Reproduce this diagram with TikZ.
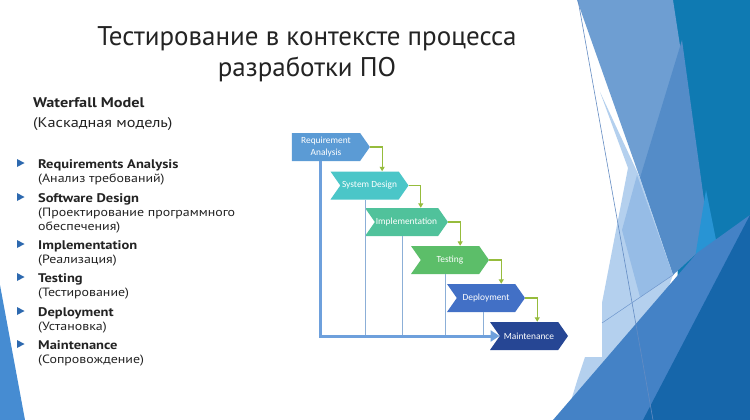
\documentclass[tikz,border=0pt]{standalone}
\usepackage{fontspec}
\setmainfont{PT Sans}
\newfontfamily\listfont{PT Sans}[FakeStretch=1.16]
\newfontfamily\chevfont{Carlito}
\usetikzlibrary{positioning,arrows.meta,shapes.symbols}

\definecolor{raC}{RGB}{91,155,213}
\definecolor{sdC}{RGB}{75,198,200}
\definecolor{imC}{RGB}{80,194,155}
\definecolor{tsC}{RGB}{92,190,105}
\definecolor{dpC}{RGB}{66,112,198}
\definecolor{mtC}{RGB}{38,70,148}
\definecolor{flowC}{RGB}{150,188,60}
\definecolor{backC}{RGB}{110,160,220}
\definecolor{dropC}{RGB}{140,175,215}
\definecolor{textC}{RGB}{35,35,35}
\definecolor{bulC}{RGB}{45,105,175}
\newcommand\itm[2]{{\fontsize{12.5}{14}\selectfont\bfseries #1}\\#2}

\begin{document}
\begin{tikzpicture}[x=1pt, y=-1pt,
  stage/.style={signal, signal to=east, signal from=west, signal pointer angle=110,
    minimum width=78pt, minimum height=28pt, inner sep=1pt, text=white,
    font=\chevfont\fontsize{9.4}{10}\selectfont, align=center},
  flow/.style={draw=flowC, line width=1.1pt, -{Triangle[length=4.5pt,width=5pt]}},
  back/.style={draw=backC, line width=3pt, -{Triangle[length=9pt,width=11pt]}},
  drop/.style={draw=dropC, line width=0.8pt},
  item/.style={anchor=north west, align=left, inner sep=0pt, text=textC,
    font=\listfont\fontsize{12}{14}\selectfont}]
  \useasboundingbox (0,0) rectangle (750,420);
  \fill[white] (0,0) rectangle (750,420);
  % background facets
  \fill[fill={rgb,255:red,15;green,122;blue,178}] (673,0) -- (750,0) -- (750,420) -- (680,420) -- cycle;
  \fill[fill={rgb,255:red,110;green,158;blue,210}] (577,0) -- (673,0) -- (706,215) -- (673,275) -- (640,178) -- cycle;
  \fill[fill={rgb,255:red,84;green,140;blue,200}] (682,40) -- (706,215) -- (697,253) -- (673,275) -- (640,178) -- cycle;
  \fill[fill={rgb,255:red,40;green,148;blue,212}] (706,190) -- (719,255) -- (687,340) -- (695,258) -- cycle;
  \fill[fill={rgb,255:red,180;green,208;blue,238}] (600,92) -- (640,178) -- (673,275) -- (620,420) -- (565,420)
    -- (578,378) -- (585,357) -- (602,357) -- (602,303) -- (628,168) -- cycle;
  \fill[fill={rgb,255:red,150;green,188;blue,230}] (637,175) -- (673,275) -- (640,297) -- (622,230) -- cycle;
  \fill[fill={rgb,255:red,68;green,130;blue,198}] (553,420) -- (697,253) -- (750,215) -- (750,420) -- cycle;
  \fill[fill={rgb,255:red,22;green,102;blue,170}] (643,420) -- (750,215) -- (750,420) -- cycle;
  \draw[line width=0.6pt, draw={rgb,255:red,100;green,140;blue,195}] (578,0) -- (653,420);
  \draw[line width=0.5pt, draw={rgb,255:red,110;green,150;blue,205}] (602,323) -- (673,275);
  \fill[fill={rgb,255:red,70;green,140;blue,210}] (0,285) -- (25,420) -- (0,420) -- cycle;
  % title
  \node[anchor=north, align=center, text=textC, font=\fontsize{27}{31}\selectfont] (title) at (307,23)
    {Тестирование в контексте процесса\\разработки ПО};
  % left column
  \node[item, font=\listfont\fontsize{14}{20}\selectfont] (wf) at (33,97)
    {{\bfseries Waterfall Model}\\(Каскадная модель)};
  \node[item] (i1) at (38,159) {\itm{Requirements Analysis}{(Анализ требований)}};
  \node[item] (i2) at (38,193) {\itm{Software Design}{(Проектирование программного\\обеспечения)}};
  \node[item] (i3) at (38,240) {\itm{Implementation}{(Реализация)}};
  \node[item] (i4) at (38,273) {\itm{Testing}{(Тестирование)}};
  \node[item] (i5) at (38,307) {\itm{Deployment}{(Установка)}};
  \node[item] (i6) at (38,340) {\itm{Maintenance}{(Сопровождение)}};
  \foreach \y in {163,197,244,277,311,344}
    \fill[bulC] (17,\y-4) -- (24.5,\y) -- (17,\y+4) -- cycle;
  % waterfall stages
  \node[stage, fill=raC, signal from=nowhere] (ra) at (326,147) {Requirement\\[2pt]Analysis};
  \node[stage, fill=sdC] (sd) at (369.5,185.5) {System Design};
  \node[stage, fill=imC] (im) at (406.5,222) {Implementation};
  \node[stage, fill=tsC] (ts) at (450,260) {Testing};
  \node[stage, fill=dpC] (dp) at (486,298) {Deployment};
  \node[stage, fill=mtC] (mt) at (529,336) {Maintenance};
  % step arrows
  \draw[flow] (ra.east) -- ++(12pt,0) coordinate (c1) -- (c1 |- sd.north);
  \draw[flow] (sd.east) -- ++(12pt,0) coordinate (c2) -- (c2 |- im.north);
  \draw[flow] (im.east) -- ++(12pt,0) coordinate (c3) -- (c3 |- ts.north);
  \draw[flow] (ts.east) -- ++(12pt,0) coordinate (c4) -- (c4 |- dp.north);
  \draw[flow] (dp.east) -- ++(12pt,0) coordinate (c5) -- (c5 |- mt.north);
  % feedback lines
  \draw[drop] ([xshift=-4pt]sd.south) -- ([xshift=-4pt]sd.south |- mt.west);
  \draw[drop] ([xshift=-4pt]im.south) -- ([xshift=-4pt]im.south |- mt.west);
  \draw[drop] ([xshift=-5pt]ts.south) -- ([xshift=-5pt]ts.south |- mt.west);
  \draw[drop] ([xshift=-3pt]dp.south) -- ([xshift=-3pt]dp.south |- mt.west);
  \draw[back] ([xshift=-6pt]ra.south) |- (mt.west);
\end{tikzpicture}
\end{document}
